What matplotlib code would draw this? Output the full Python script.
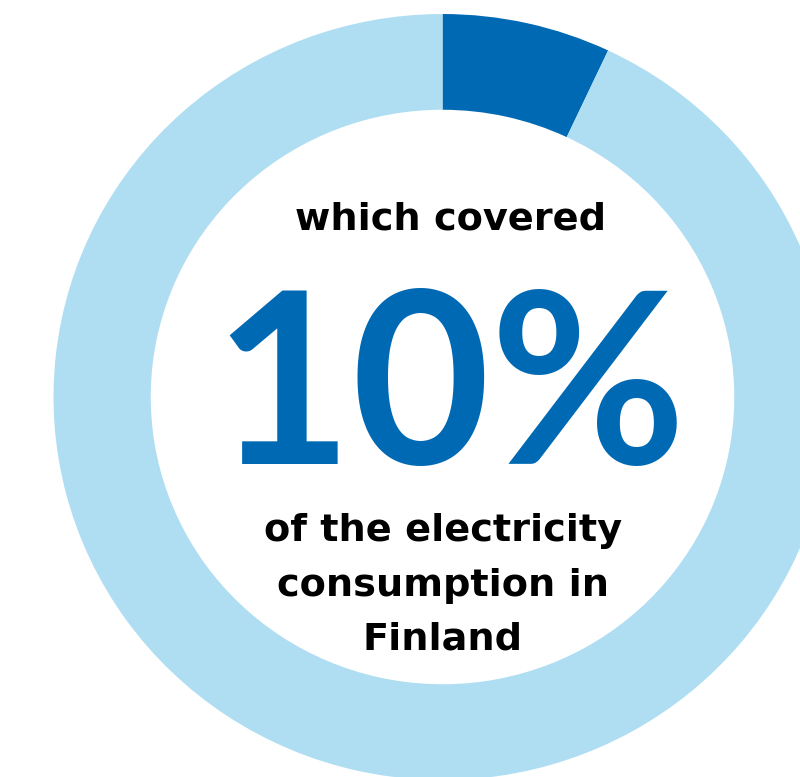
import matplotlib
matplotlib.use("Agg")
import matplotlib.pyplot as plt
from matplotlib.transforms import Affine2D

# donut data (share drawn in the ring)
labels = ["covered", "rest"]
values = [7, 93]
colors = ["#0069b4", "#afdef3"]

title_top = "which covered"
big_value = "10%"
caption = ["of the electricity", "consumption in", "Finland"]

W, H = 800, 777
fig = plt.figure(figsize=(W / 100, H / 100), dpi=100)
ax = fig.add_axes([0, 0, 1, 1])

ax.pie(values, colors=colors, startangle=90, counterclock=False, radius=1,
       wedgeprops=dict(width=0.25, linewidth=0))

# ring is cropped on the right and bottom, slightly squashed vertically
ax.set_aspect("auto")
ax.set_xlim(-1.1375, 0.919)
ax.set_ylim(-0.9922, 1.0366)
ax.axis("off")

# pixel coords measured from the top-left corner
pix = Affine2D().scale(1, -1).translate(0, H)

small = dict(fontsize=27.5, fontweight="bold", family="DejaVu Sans",
             color="black", ha="center", va="baseline", transform=pix)

ax.text(451, 229, title_top, **small)
ax.text(449.5, 464, big_value, fontsize=172, fontweight="bold", family="Lato",
        color=colors[0], ha="center", va="baseline", transform=pix)
for i, line in enumerate(caption):
    ax.text(443, 541 + i * 54.5, line, **small)

plt.savefig("out.png", dpi=100)
